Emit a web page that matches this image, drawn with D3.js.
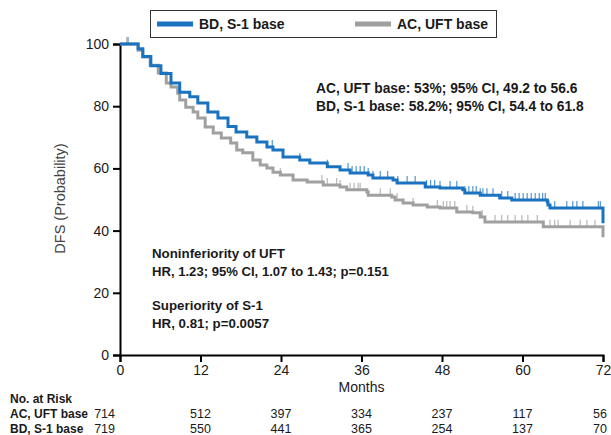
<!DOCTYPE html>
<html>
<head>
<meta charset="utf-8">
<script src="https://cdn.jsdelivr.net/npm/d3@7"></script>
<style>
  body { margin: 0; background: #fff; }
  text { font-family: Arial, "Liberation Sans", sans-serif; fill: #1a1a1a; }
  .bold { font-weight: bold; }
</style>
</head>
<body>
<div id="chart"></div>
<script>
// Tick labels / risk table
let monthTicks = [0, 12, 24, 36, 48, 60, 72];
let probTicks = [0, 20, 40, 60, 80, 100];
let riskUft = [714, 512, 397, 334, 237, 117, 56];
let riskS1 = [719, 550, 441, 365, 254, 137, 70];

// BD, S-1 base step curve (month, DFS %)
let s1Time = [0, 2.7, 3.4, 4.6, 6.1, 7.6, 8.9, 10.4, 11.6, 13.1, 14.6, 16.1, 17.3, 18.9, 20.4, 21.9, 22.8, 24.3, 26.8, 28.3, 30.9, 32.8, 34.3, 37.0, 37.7, 40.7, 41.3, 45.5, 47.7, 51.1, 51.4, 53.7, 56.6, 58.4, 63.7, 63.8, 64.1, 72];
let s1Value = [100, 98.5, 96, 93, 90.5, 87.5, 84.5, 83, 81, 78.1, 76.2, 73.5, 71.7, 70.1, 68.5, 66.9, 65.9, 63.7, 62.7, 61.7, 60.5, 59.5, 58.5, 57.9, 56.9, 56.3, 55.3, 54.0, 53.7, 53.1, 52.1, 51.4, 50.5, 49.8, 49.2, 48.2, 47.3, 42.4];
let s1Censor = [1.2, 22.7, 26.8, 30.9, 34.0, 34.6, 35.2, 35.8, 36.4, 37.0, 37.7, 38.8, 39.9, 41.4, 42.8, 44.0, 45.7, 46.3, 46.9, 47.7, 49.2, 50.2, 51.4, 52.0, 52.6, 53.1, 53.7, 54.1, 54.7, 55.6, 56.9, 57.8, 58.9, 59.5, 60.1, 60.7, 61.3, 61.9, 62.5, 63.0, 63.4, 64.8, 66.6, 67.5, 68.1, 69.0, 71.3, 71.6];

// AC, UFT base step curve (month, DFS %)
let uftTime = [0, 2.7, 3.4, 4.5, 5.7, 6.9, 7.6, 8.6, 8.9, 9.8, 10.9, 11.6, 12.7, 13.9, 15.1, 16.5, 17.4, 18.3, 19.8, 20.9, 21.9, 22.8, 23.9, 25.8, 27.9, 30.3, 32.8, 33.8, 36.8, 37.0, 40.5, 41.0, 42.2, 43.7, 45.8, 47.7, 50.2, 52.6, 53.7, 54.4, 63.1, 72];
let uftValue = [100, 98, 95.8, 93.2, 90.7, 87.5, 86.2, 84.2, 82.0, 79.7, 78.1, 76.2, 73.3, 71.4, 69.8, 68.2, 65.9, 65.0, 62.7, 61.1, 60.1, 58.8, 57.9, 56.3, 55.6, 54.7, 54.0, 53.1, 52.4, 51.4, 50.8, 49.8, 48.9, 48.2, 47.6, 47.3, 46.0, 45.7, 44.4, 42.8, 41.2, 37.9];
let uftCensor = [1.0, 23.9, 30.1, 30.9, 32.3, 32.8, 34.3, 34.9, 35.5, 35.8, 38.8, 40.3, 41.3, 43.7, 47.3, 48.2, 48.7, 49.2, 49.9, 51.7, 52.6, 54.0, 55.9, 56.9, 57.8, 58.9, 59.9, 60.8, 62.2, 64.1, 64.8, 65.3, 67.1, 68.6, 69.6, 70.8];

let width = 611;
let height = 435;
let blue = '#1a73c0';
let gray = '#a0a0a0';

let svg = d3.select('#chart').append('svg')
		.attr('width', width)
		.attr('height', height);

let xScale = d3.scaleLinear().domain([0, 72]).range([120, 603]);
let yScale = d3.scaleLinear().domain([0, 100]).range([355, 44]);

// Axes
let yAxis = svg.append('g')
		.attr('transform', `translate(${xScale(0)}, 0)`)
		.call(d3.axisLeft(yScale).tickValues(probTicks).tickSize(7).tickPadding(4));
let xAxis = svg.append('g')
		.attr('transform', `translate(0, ${yScale(0)})`)
		.call(d3.axisBottom(xScale).tickValues(monthTicks).tickSize(7).tickPadding(3));

[xAxis, yAxis].forEach(a => {
	a.select('.domain').attr('stroke', '#000').attr('stroke-width', 2);
	a.selectAll('.tick line').attr('stroke', '#000').attr('stroke-width', 2);
	a.selectAll('.tick text')
			.style('font-family', 'Arial, "Liberation Sans", sans-serif')
			.style('font-size', '14px')
			.attr('fill', '#1a1a1a');
});

svg.append('text')
		.attr('x', xScale(36))
		.attr('y', 392)
		.attr('text-anchor', 'middle')
		.style('font-size', '14px')
		.text('Months');

svg.append('text')
		.attr('transform', `translate(65, ${yScale(50) - 1}) rotate(-90)`)
		.attr('text-anchor', 'middle')
		.style('font-size', '14.5px')
		.style('fill', '#444')
		.text('DFS (Probability)');

// Step value at time t, used to place censor ticks
function valueAt(times, values, t) {
	let i = d3.bisectRight(times, t) - 1;
	return values[Math.max(0, i)];
}

function drawCurve(times, values, censor, color) {
	let pts = times.map((t, i) => [t, values[i]]);
	let line = d3.line()
			.x(d => xScale(d[0]))
			.y(d => yScale(d[1]))
			.curve(d3.curveStepAfter);
	svg.append('path')
			.datum(pts)
			.attr('fill', 'none')
			.attr('stroke', color)
			.attr('stroke-width', 3)
			.attr('d', line);
	svg.append('g').selectAll('line').data(censor).enter().append('line')
			.attr('x1', d => xScale(d))
			.attr('x2', d => xScale(d))
			.attr('y1', d => yScale(valueAt(times, values, d)))
			.attr('y2', d => yScale(valueAt(times, values, d)) - 7)
			.attr('stroke', color)
			.attr('stroke-width', 1.2)
			.attr('opacity', 0.75);
}

drawCurve(uftTime, uftValue, uftCensor, gray);
drawCurve(s1Time, s1Value, s1Censor, blue);

// Legend
let legend = svg.append('g');
legend.append('rect')
		.attr('x', 150.5).attr('y', 10.5)
		.attr('width', 346).attr('height', 27)
		.attr('fill', '#fff')
		.attr('stroke', '#333')
		.attr('stroke-width', 1);
let legendItems = [
	{label: 'BD, S-1 base', color: blue, x: 157},
	{label: 'AC, UFT base', color: gray, x: 355}
];
legendItems.forEach(it => {
	legend.append('line')
			.attr('x1', it.x).attr('x2', it.x + 36)
			.attr('y1', 24).attr('y2', 24)
			.attr('stroke', it.color)
			.attr('stroke-width', 5);
	legend.append('text')
			.attr('class', 'bold')
			.attr('x', it.x + 42)
			.attr('y', 29)
			.style('font-size', '14px')
			.text(it.label);
});

// Annotations
let notes = [
	{text: 'AC, UFT base: 53%; 95% CI, 49.2 to 56.6', x: 316, y: 93, size: 13.8},
	{text: 'BD, S-1 base: 58.2%; 95% CI, 54.4 to 61.8', x: 316, y: 111, size: 13.8},
	{text: 'Noninferiority of UFT', x: 152, y: 258, size: 13.3},
	{text: 'HR, 1.23; 95% CI, 1.07 to 1.43; p=0.151', x: 152, y: 276, size: 13.1},
	{text: 'Superiority of S-1', x: 152, y: 310, size: 13.3},
	{text: 'HR, 0.81; p=0.0057', x: 152, y: 328, size: 13.3}
];
svg.append('g').selectAll('text').data(notes).enter().append('text')
		.attr('class', 'bold')
		.attr('x', d => d.x)
		.attr('y', d => d.y)
		.style('font-size', d => d.size + 'px')
		.text(d => d.text);

// Risk table
let rows = [
	{label: 'AC, UFT base', values: riskUft, y: 418},
	{label: 'BD, S-1 base', values: riskS1, y: 433}
];
svg.append('text')
		.attr('class', 'bold')
		.attr('x', 10).attr('y', 403)
		.style('font-size', '12px')
		.text('No. at Risk');
rows.forEach(r => {
	svg.append('text')
			.attr('class', 'bold')
			.attr('x', 10).attr('y', r.y)
			.style('font-size', '12px')
			.text(r.label);
	svg.append('g').selectAll('text').data(r.values).enter().append('text')
			.attr('x', (d, i) => i === 0 ? xScale(0) - 5 : (i === 6 ? xScale(72) + 4 : xScale(monthTicks[i])))
			.attr('y', r.y)
			.attr('text-anchor', (d, i) => i === 0 || i === 6 ? 'end' : 'middle')
			.style('font-size', '12.5px')
			.text(d => d);
});
</script>
</body>
</html>
